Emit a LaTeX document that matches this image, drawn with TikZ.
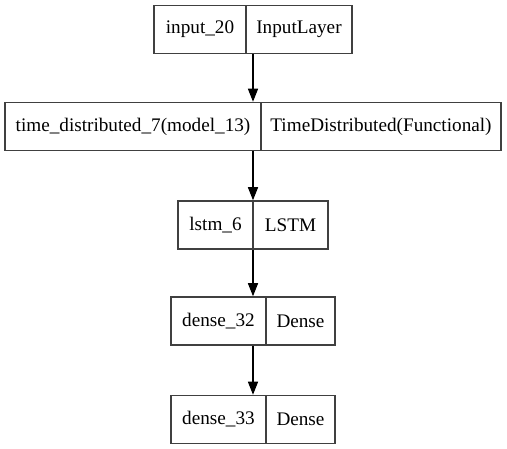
\documentclass[tikz,border=0pt]{standalone}
\usepackage{fontspec}
\setmainfont{Liberation Serif}
\usetikzlibrary{arrows.meta,fit}
\begin{document}
\begin{tikzpicture}[x=1pt,y=-1pt,
  cell/.style={draw=black!75,line width=1.1pt,minimum height=48pt,inner sep=0pt,
    font=\fontsize{19.2}{22}\selectfont},
  wrap/.style={inner sep=0pt},
  arr/.style={draw=black,line width=1.1pt,-{Triangle[length=13pt,width=10pt]}}]
\useasboundingbox (0,0) rectangle (507,449);
\fill[white] (0,0) rectangle (507,449);
% box 1
\node[cell,minimum width=92pt] (b1l) at (200,29.5) {input\_20};
\node[cell,minimum width=106pt] (b1r) at (299,29.5) {InputLayer};
\node[wrap,fit=(b1l)(b1r)] (b1) {};
% box 2
\node[cell,minimum width=256pt] (b2l) at (133,126.5) {time\_distributed\_7(model\_13)};
\node[cell,minimum width=240pt] (b2r) at (381,126.5) {TimeDistributed(Functional)};
\node[wrap,fit=(b2l)(b2r)] (b2) {};
% box 3
\node[cell,minimum width=75pt] (b3l) at (215.5,225) {lstm\_6};
\node[cell,minimum width=75pt] (b3r) at (290.5,225) {LSTM};
\node[wrap,fit=(b3l)(b3r)] (b3) {};
% box 4
\node[cell,minimum width=95pt] (b4l) at (218.5,321) {dense\_32};
\node[cell,minimum width=69pt] (b4r) at (300.5,321) {Dense};
\node[wrap,fit=(b4l)(b4r)] (b4) {};
% box 5
\node[cell,minimum width=95pt] (b5l) at (218.5,419.5) {dense\_33};
\node[cell,minimum width=69pt] (b5r) at (300.5,419.5) {Dense};
\node[wrap,fit=(b5l)(b5r)] (b5) {};
% arrows
\draw[arr] (b1) -- (b2);
\draw[arr] (b2) -- (b3);
\draw[arr] (b3) -- (b4);
\draw[arr] (b4) -- (b5);
\end{tikzpicture}
\end{document}
